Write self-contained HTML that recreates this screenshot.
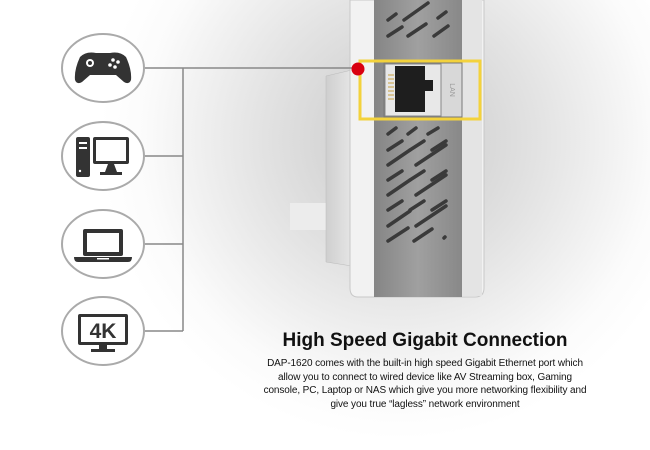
<!DOCTYPE html>
<html><head><meta charset="utf-8">
<style>
html,body{margin:0;padding:0;background:#fff;}
body{width:650px;height:450px;overflow:hidden;position:relative;font-family:"Liberation Sans",sans-serif;}
.t{position:absolute;left:200px;width:450px;text-align:center;color:#111;}
</style></head><body>
<svg width="650" height="450" style="position:absolute;left:0;top:0">
<defs>
<radialGradient id="glow" cx="400" cy="140" r="300" gradientUnits="userSpaceOnUse">
<stop offset="0" stop-color="#c8c8c8"/><stop offset="0.45" stop-color="#e2e2e2"/><stop offset="0.85" stop-color="#fbfbfb"/><stop offset="1" stop-color="#fff"/>
</radialGradient>
<linearGradient id="panel" x1="0" x2="1"><stop offset="0" stop-color="#858585"/><stop offset="0.5" stop-color="#a0a0a0"/><stop offset="1" stop-color="#888"/></linearGradient>
<linearGradient id="flap" x1="0" x2="1"><stop offset="0" stop-color="#cfcfcf"/><stop offset="1" stop-color="#e6e6e6"/></linearGradient>
</defs>
<rect width="650" height="450" fill="url(#glow)"/>
<rect x="290" y="203" width="40" height="27" fill="#ececec"/>
<path d="M326 76 L352 70 L352 266 L326 262 Z" fill="url(#flap)" stroke="#bbb" stroke-width="0.5"/>
<path d="M350 0 H484 V288 Q484 297 475 297 H358 Q350 297 350 288 Z" fill="#f2f2f2" stroke="#c8c8c8"/>
<rect x="462" y="0" width="20" height="296" fill="#e4e4e4"/>
<rect x="374" y="0" width="88" height="297" fill="url(#panel)"/>
<g stroke="#3a3a3a" stroke-width="3.5" stroke-linecap="round">
<line x1="388" y1="20" x2="396" y2="14"/><line x1="404" y1="20" x2="428" y2="3"/><line x1="438" y1="18" x2="446" y2="12"/>
<line x1="388" y1="36" x2="402" y2="27"/><line x1="408" y1="36" x2="426" y2="24"/><line x1="434" y1="36" x2="448" y2="26"/>
<line x1="388" y1="134" x2="396" y2="128"/><line x1="408" y1="134" x2="416" y2="128"/><line x1="428" y1="134" x2="438" y2="128"/>
<line x1="388" y1="150" x2="402" y2="141"/><line x1="410" y1="150" x2="424" y2="141"/><line x1="432" y1="150" x2="446" y2="141"/>
<line x1="388" y1="165" x2="410" y2="150"/><line x1="416" y1="165" x2="446" y2="145"/>
<line x1="388" y1="180" x2="402" y2="171"/><line x1="410" y1="180" x2="424" y2="171"/><line x1="432" y1="180" x2="446" y2="171"/>
<line x1="388" y1="195" x2="410" y2="180"/><line x1="416" y1="195" x2="446" y2="175"/>
<line x1="388" y1="210" x2="402" y2="201"/><line x1="410" y1="210" x2="424" y2="201"/><line x1="432" y1="210" x2="446" y2="201"/>
<line x1="388" y1="226" x2="410" y2="211"/><line x1="416" y1="226" x2="446" y2="206"/>
<line x1="388" y1="241" x2="408" y2="228"/><line x1="414" y1="241" x2="432" y2="229"/><line x1="444" y1="238" x2="445" y2="237"/>
</g>
<rect x="384" y="63" width="78" height="54" fill="#d8d8d8" stroke="#777"/>
<rect x="385" y="64" width="56" height="52" fill="#e8e8e8" stroke="#888"/>
<path d="M395 66 H425 V80 H433 V91 H425 V112 H395 Z" fill="#1e1e1e"/>
<g stroke="#c8a040" stroke-width="1"><line x1="388" y1="75" x2="394" y2="75"/><line x1="388" y1="79" x2="394" y2="79"/><line x1="388" y1="83" x2="394" y2="83"/><line x1="388" y1="87" x2="394" y2="87"/><line x1="388" y1="91" x2="394" y2="91"/><line x1="388" y1="95" x2="394" y2="95"/><line x1="388" y1="99" x2="394" y2="99"/></g>
<text x="450" y="90" font-size="7" fill="#999" transform="rotate(90 450 90)" text-anchor="middle" font-family="Liberation Sans">LAN</text>
<rect x="360" y="61" width="120" height="58" fill="none" stroke="#f3d23c" stroke-width="3"/>
<g stroke="#888" stroke-width="1.5" fill="none">
<line x1="145" y1="68" x2="358" y2="68"/>
<line x1="183" y1="68" x2="183" y2="331"/>
<line x1="145" y1="156" x2="183" y2="156"/>
<line x1="145" y1="244" x2="183" y2="244"/>
<line x1="145" y1="331" x2="183" y2="331"/>
</g>
<circle cx="358" cy="69" r="6.5" fill="#d90010"/>
<g fill="#fff" stroke="#aaa" stroke-width="2">
<ellipse cx="103" cy="68" rx="41" ry="34"/>
<ellipse cx="103" cy="156" rx="41" ry="34"/>
<ellipse cx="103" cy="244" rx="41" ry="34"/>
<ellipse cx="103" cy="331" rx="41" ry="34"/>
</g>
<path d="M80 57 Q86 51 96 53 H110 Q120 51 126 57 Q132 70 131 80 Q129 85 124 82 L116 75 H90 L82 82 Q77 85 75 80 Q74 70 80 57 Z" fill="#333"/>
<circle cx="90" cy="63" r="4" fill="#fff"/><circle cx="90" cy="63" r="2" fill="#333"/>
<g fill="#fff"><circle cx="113" cy="60" r="1.8"/><circle cx="118" cy="62" r="1.8"/><circle cx="110" cy="65" r="1.8"/><circle cx="115" cy="67" r="1.8"/></g>
<rect x="76" y="137" width="14" height="40" rx="2" fill="#333"/>
<g fill="#fff"><rect x="79" y="142" width="8" height="2"/><rect x="79" y="147" width="8" height="2"/><circle cx="80" cy="171" r="1.2"/></g>
<rect x="93" y="137" width="36" height="27" rx="2" fill="#333"/><rect x="96" y="140" width="30" height="21" fill="#fff"/>
<path d="M108 164 H114 L117 172 H105 Z" fill="#333"/><rect x="100" y="172" width="22" height="3" fill="#333"/>
<rect x="83" y="229" width="40" height="27" rx="2" fill="#333"/><rect x="87" y="233" width="32" height="19" fill="#fff"/>
<path d="M74 257 H132 Q132 262 128 262 H78 Q74 262 74 257 Z" fill="#333"/><rect x="97" y="258" width="12" height="1.5" fill="#fff"/>
<rect x="78" y="314" width="50" height="31" rx="2" fill="#333"/><rect x="81" y="317" width="44" height="25" fill="#fff"/>
<text x="103" y="338" font-size="21" font-weight="bold" fill="#333" text-anchor="middle" font-family="Liberation Sans">4K</text>
<rect x="99" y="345" width="8" height="4" fill="#333"/><rect x="91" y="349" width="24" height="3" fill="#333"/>
</svg>
<div class="t" style="top:330px;font-size:19px;font-weight:bold;">High Speed Gigabit Connection</div>
<div class="t" style="top:357px;font-size:10px;line-height:13.7px;letter-spacing:-0.1px;">DAP-1620 comes with the built-in high speed Gigabit Ethernet port which<br>allow you to connect to wired device like AV Streaming box, Gaming<br>console, PC, Laptop or NAS which give you more networking flexibility and<br>give you true “lagless” network environment</div>
</body></html>
